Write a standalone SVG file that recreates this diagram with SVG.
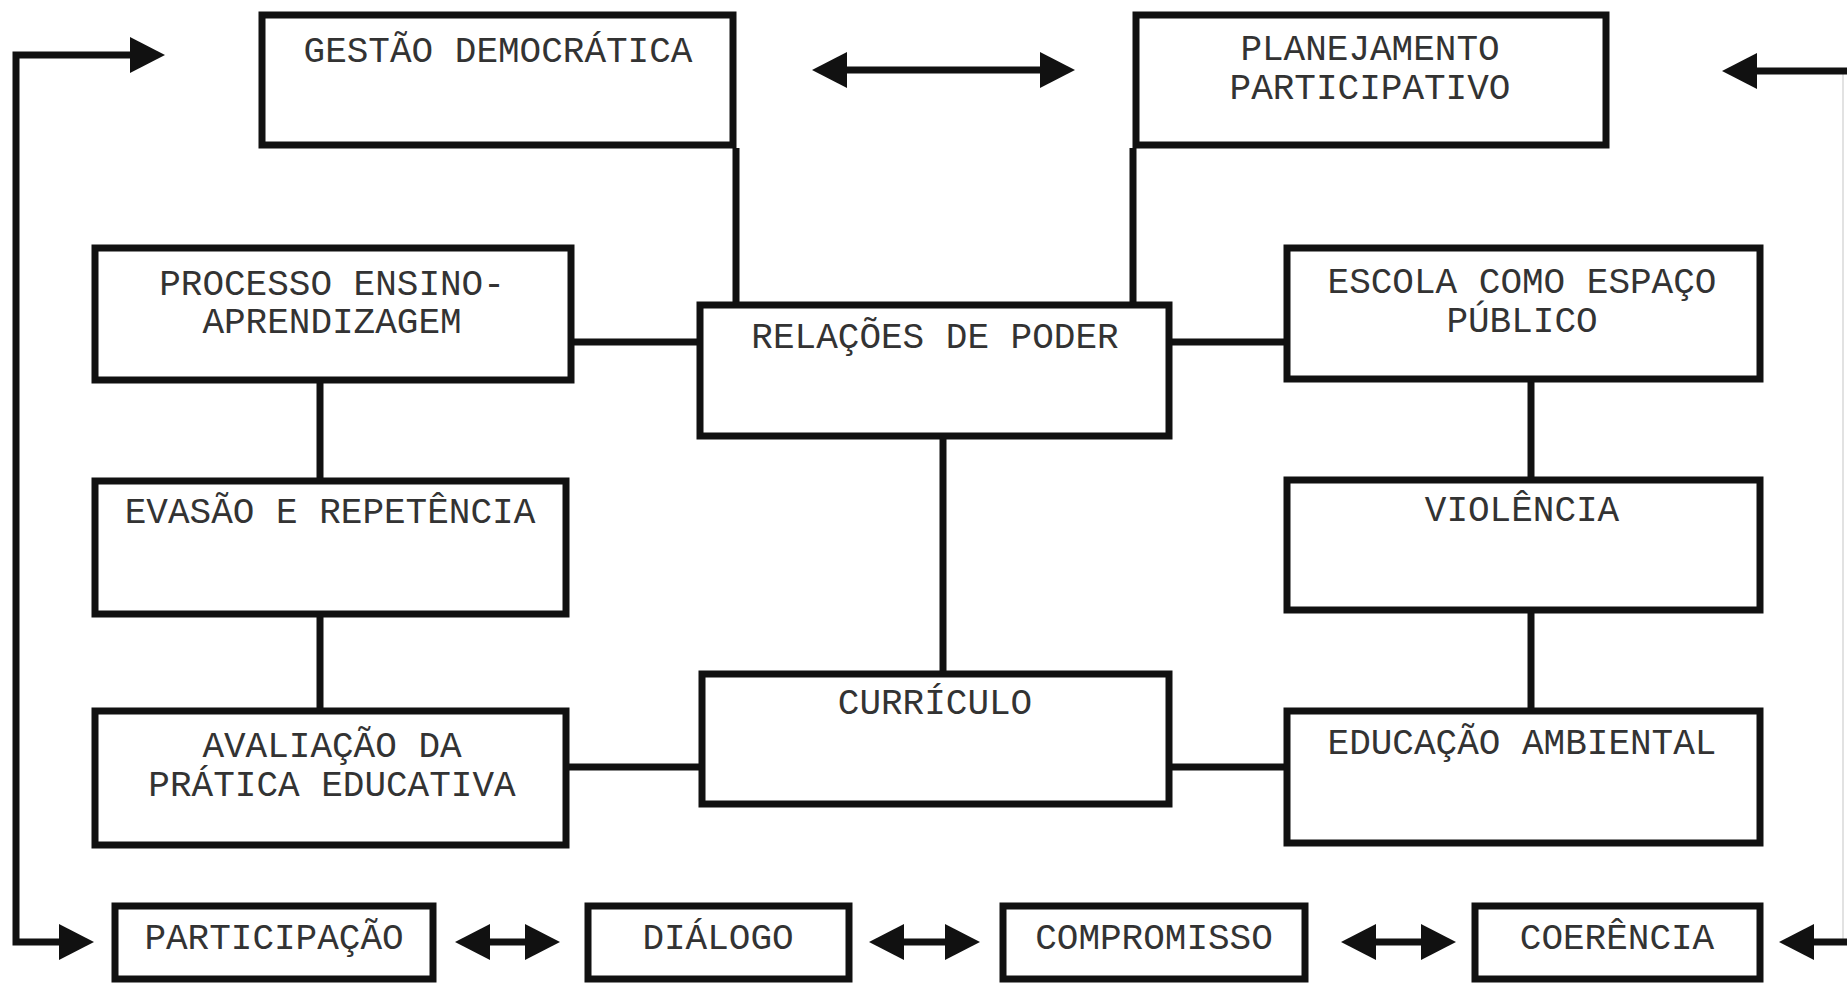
<svg xmlns="http://www.w3.org/2000/svg" width="1847" height="985" viewBox="0 0 1847 985">
<style>
.box{fill:none;stroke:#111;stroke-width:7}
.ln{fill:none;stroke:#111;stroke-width:7}
.faint{fill:none;stroke:#e2e2e2;stroke-width:2}
.ar{fill:none;stroke:#111;stroke-width:7;marker-start:url(#ah);marker-end:url(#ah)}
.ar1{fill:none;stroke:#111;stroke-width:7;marker-end:url(#ah)}
text{font-family:"Liberation Mono","DejaVu Sans Mono",monospace;font-size:36px;fill:#333;text-anchor:middle}
</style>
<defs>
<marker id="ah" markerUnits="userSpaceOnUse" viewBox="0 0 35 36" markerWidth="35" markerHeight="36" refX="0" refY="18" orient="auto-start-reverse">
<path d="M0,0 L35,18 L0,36 Z" fill="#111"/>
</marker>
</defs>
<rect width="1847" height="985" fill="#fff"/>
<g id="connectors">
<path class="ln" d="M736,148 V302"/>
<path class="ln" d="M1133,148 V302"/>
<path class="ln" d="M574,342 H697"/>
<path class="ln" d="M1172,342 H1284"/>
<path class="ln" d="M320,383 V478"/>
<path class="ln" d="M320,617 V708"/>
<path class="ln" d="M1531,382 V477"/>
<path class="ln" d="M1531,613 V708"/>
<path class="ln" d="M943,439 V671"/>
<path class="ln" d="M569,767 H699"/>
<path class="ln" d="M1172,767 H1284"/>
<path class="ar" d="M130,55 H16 V942 H59"/>
<path class="faint" d="M1843,74 V939"/>
<path class="ar1" d="M1850,71 H1757"/>
<path class="ar1" d="M1850,942 H1814"/>
<path class="ar" d="M847,70 H1040"/>
<path class="ar" d="M490,942 H525"/>
<path class="ar" d="M904,942 H945"/>
<path class="ar" d="M1376,942 H1421"/>
</g>
<g id="gestao"><rect class="box" x="262" y="15" width="471" height="130"/><text x="498" y="62">GESTÃO DEMOCRÁTICA</text></g>
<g id="planejamento"><rect class="box" x="1136" y="15" width="470" height="130"/><text x="1370" y="60">PLANEJAMENTO</text><text x="1370" y="99">PARTICIPATIVO</text></g>
<g id="processo"><rect class="box" x="95" y="248" width="476" height="132"/><text x="332" y="295">PROCESSO ENSINO-</text><text x="332" y="333">APRENDIZAGEM</text></g>
<g id="relacoes"><rect class="box" x="700" y="305" width="469" height="131"/><text x="935" y="348">RELAÇÕES DE PODER</text></g>
<g id="escola"><rect class="box" x="1287" y="248" width="473" height="131"/><text x="1522" y="293">ESCOLA COMO ESPAÇO</text><text x="1522" y="332">PÚBLICO</text></g>
<g id="evasao"><rect class="box" x="95" y="481" width="471" height="133"/><text x="330" y="523">EVASÃO E REPETÊNCIA</text></g>
<g id="violencia"><rect class="box" x="1287" y="480" width="473" height="130"/><text x="1522" y="521">VIOLÊNCIA</text></g>
<g id="curriculo"><rect class="box" x="702" y="674" width="467" height="130"/><text x="935" y="714">CURRÍCULO</text></g>
<g id="avaliacao"><rect class="box" x="95" y="711" width="471" height="134"/><text x="332" y="757">AVALIAÇÃO DA</text><text x="332" y="796">PRÁTICA EDUCATIVA</text></g>
<g id="educacao"><rect class="box" x="1287" y="711" width="473" height="132"/><text x="1522" y="754">EDUCAÇÃO AMBIENTAL</text></g>
<g id="participacao"><rect class="box" x="115" y="906" width="318" height="73"/><text x="274" y="949">PARTICIPAÇÃO</text></g>
<g id="dialogo"><rect class="box" x="588" y="906" width="261" height="73"/><text x="718" y="949">DIÁLOGO</text></g>
<g id="compromisso"><rect class="box" x="1003" y="906" width="302" height="73"/><text x="1154" y="949">COMPROMISSO</text></g>
<g id="coerencia"><rect class="box" x="1475" y="906" width="285" height="73"/><text x="1617" y="949">COERÊNCIA</text></g>
</svg>
